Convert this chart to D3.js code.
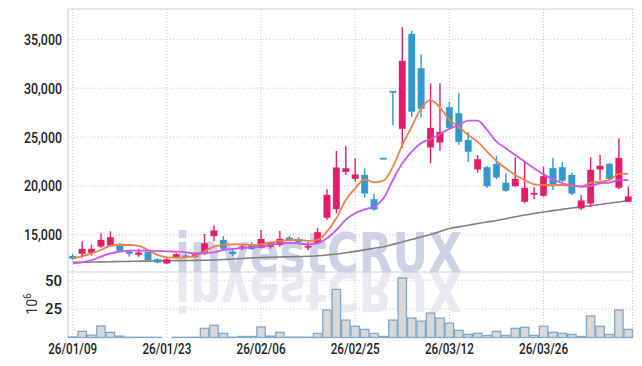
<!DOCTYPE html>
<html>
<head>
<meta charset="utf-8">
<script src="https://cdn.jsdelivr.net/npm/d3@7"></script>
<style>
  body { margin: 0; background: #fff; }
  svg { display: block; font-family: Roboto, "Liberation Sans", sans-serif; }
</style>
</head>
<body>
<div id="chart"></div>
<script>
// trading days
var dates = ["26/01/09","26/01/12","26/01/13","26/01/14","26/01/15","26/01/16","26/01/19","26/01/20","26/01/21","26/01/22",
  "26/01/23","26/01/26","26/01/27","26/01/28","26/01/29","26/01/30","26/02/02","26/02/03","26/02/04","26/02/05",
  "26/02/06","26/02/09","26/02/10","26/02/11","26/02/12","26/02/13","26/02/19","26/02/20","26/02/23","26/02/24",
  "26/02/25","26/02/26","26/02/27","26/03/03","26/03/04","26/03/05","26/03/06","26/03/09","26/03/10","26/03/11",
  "26/03/12","26/03/13","26/03/16","26/03/17","26/03/18","26/03/19","26/03/20","26/03/23","26/03/24","26/03/25",
  "26/03/26","26/03/27","26/03/30","26/03/31","26/04/01","26/04/02","26/04/03","26/04/06","26/04/07","26/04/08"];

var open  = [12840,13080,13160,13835,13935,14070,13280,12980,13250,12500,12100,12710,12870,12770,13050,14890,14480,13280,13630,14040,
  13690,13800,13970,14710,14580,13730,14200,16760,17650,21460,20750,21120,18640,22870,29700,25860,35540,32030,23960,24470,
  28050,27430,24700,21710,21910,22250,20310,20000,18400,19170,19010,21810,21910,21120,17720,18230,21710,22250,19830,18400];
var high  = [13050,14345,14000,15163,15370,14140,13455,13560,13320,12600,12640,13150,13050,13150,15090,15980,14890,13455,14040,14280,
  15500,14345,15400,14890,14750,14240,15700,19660,23580,24090,22830,21810,19180,22870,29720,36230,35850,33470,30500,30500,
  28590,29480,25490,23170,22050,23100,21300,22930,22480,19870,21970,22890,22480,21360,19080,22930,23170,22380,24880,19930];
var low   = [12470,12668,12880,13690,13865,13310,12770,12760,12400,12100,12050,12610,12640,12640,12980,14345,13520,12840,13420,13450,
  13630,13600,13800,14370,13990,13420,14140,16520,17210,21120,20440,18840,17470,22850,26210,23920,27090,27020,22320,23610,
  25730,24220,22420,21360,19790,20680,19420,19930,18230,18640,18900,19590,20340,19080,17540,17880,20610,20510,19660,18400];
var close = [12570,13560,13560,14478,14755,13380,13080,13180,12430,12200,12500,13020,12740,12980,14140,15430,13590,13045,13800,13560,
  14580,14240,14580,14480,14270,13860,15270,19080,21870,21810,21160,19250,17620,22850,29650,32780,27600,27900,25930,25520,
  25960,24530,23510,22730,20000,20890,19520,20720,19800,19280,20990,20000,20540,19250,18500,21640,22050,20720,22860,18910];

// volume, millions of shares
var volume = [0.5,5.4,2.1,10.1,4.5,1.2,0.2,0.2,0.2,0.2,0,0.2,0.2,0.2,8.0,10.7,3.6,0.3,0.9,0.9,
  9.2,1.2,4.5,0.3,0.3,0.3,3.6,24,42,15.2,9.8,7.1,3.6,0.9,15.2,52,17,14.3,21.4,17,
  12.5,6.3,2.7,3.6,1.8,5.4,1.8,8.0,8.9,1.8,9.8,4.5,3.6,2.7,0.9,18.8,9.8,2.7,24,7.1];

// moving average lines as drawn
var maShort = [12610,12840,13120,13460,13870,13970,13970,13870,13460,12950,12710,12670,12710,12840,13300,13800,13970,14040,14040,13970,
  14040,14200,14380,14480,14480,14380,14480,15330,16700,18570,19760,20690,20380,20540,21970,24190,26060,27940,28790,28050,
  26750,26060,25210,24530,23510,22560,21810,21120,20610,20170,20100,20100,20100,20000,19930,20340,20440,20610,21230,21230];
var maMid = [12100,12200,12430,12770,13120,13280,13390,13390,13390,13360,13320,13280,13220,13120,13150,13220,13460,13560,13660,13730,
  13800,13970,14140,14200,14140,14040,14140,14650,15500,16550,17210,17620,17880,18740,20610,22320,23510,24370,24780,25300,
  25850,26250,26680,26680,25730,24530,23850,23170,22480,21810,21190,20690,20280,20100,19930,20000,20280,20340,20610,20610];
var maLong = [12200,12210,12230,12240,12260,12280,12290,12310,12320,12340,12350,12370,12380,12400,12410,12430,12480,12530,12590,12640,
  12690,12710,12740,12760,12790,12810,12870,12950,13050,13180,13320,13470,13630,13790,14030,14270,14530,14790,15040,15350,
  15650,15820,15990,16160,16320,16470,16660,16850,17030,17190,17340,17480,17610,17750,17870,17990,18110,18240,18370,18500];

var priceTicks = [15000, 20000, 25000, 30000, 35000];
var volTicks = [25, 50];
var dateTicks = [0, 10, 20, 30, 40, 50];

var W = 642, H = 366;
var plot = { left: 68, right: 633, top: 9, mid: 272, bottom: 337.5 };

var svg = d3.select('#chart').append('svg')
  .attr('width', W)
  .attr('height', H);

var idx = d3.range(dates.length);
var x = d3.scaleBand().domain(idx).range([plot.left, plot.right]).padding(0);
var cx = function (i) { return x(i) + x.bandwidth() / 2; };

var y = d3.scaleLinear().domain([11207, 38098]).range([plot.mid, plot.top]);
var yv = d3.scaleLinear().domain([0, 57.2]).range([plot.bottom, plot.mid]);

// grid
var grid = svg.append('g')
  .attr('stroke', '#c4c4d6')
  .attr('stroke-dasharray', '1,2')
  .attr('stroke-width', 1);

grid.selectAll('line.hp').data(priceTicks).enter().append('line')
  .attr('x1', plot.left).attr('x2', plot.right)
  .attr('y1', d => y(d)).attr('y2', d => y(d));
grid.selectAll('line.hv').data(volTicks).enter().append('line')
  .attr('x1', plot.left).attr('x2', plot.right)
  .attr('y1', d => yv(d)).attr('y2', d => yv(d));
grid.selectAll('line.v').data(dateTicks).enter().append('line')
  .attr('x1', d => cx(d)).attr('x2', d => cx(d))
  .attr('y1', plot.top).attr('y2', plot.bottom);
grid.append('line').attr('x1', plot.right - 0.5).attr('x2', plot.right - 0.5).attr('y1', plot.top).attr('y2', plot.bottom);

// watermark and its reflection
var wm = svg.append('g');
wm.append('text')
  .attr('x', 175).attr('y', plot.mid)
  .attr('textLength', 287).attr('lengthAdjust', 'spacingAndGlyphs')
  .style('font-family', '"DejaVu Sans", sans-serif')
  .style('font-weight', 'bold')
  .style('font-size', '55px')
  .attr('fill', '#cdd2e6')
  .text('investCRUX');
var clip = svg.append('clipPath').attr('id', 'volclip');
clip.append('rect').attr('x', plot.left).attr('y', plot.mid).attr('width', plot.right - plot.left).attr('height', 48);
wm.append('g').attr('clip-path', 'url(#volclip)')
  .append('text')
  .attr('transform', `translate(0, ${2 * plot.mid}) scale(1,-1)`)
  .attr('x', 175).attr('y', plot.mid)
  .attr('textLength', 287).attr('lengthAdjust', 'spacingAndGlyphs')
  .style('font-family', '"DejaVu Sans", sans-serif')
  .style('font-weight', 'bold')
  .style('font-size', '55px')
  .attr('fill', '#e9e9f1')
  .text('investCRUX');

// frame
var frame = svg.append('g').attr('stroke', '#d0d0d0').attr('stroke-width', 1.2);
frame.append('line').attr('x1', plot.left).attr('x2', plot.right).attr('y1', plot.top).attr('y2', plot.top);
frame.append('line').attr('x1', plot.left).attr('x2', plot.left).attr('y1', plot.top).attr('y2', plot.bottom);
frame.append('line').attr('x1', plot.left).attr('x2', plot.right).attr('y1', plot.mid).attr('y2', plot.mid);

// volume bars
svg.append('g').selectAll('rect')
  .data(idx.filter(i => volume[i] > 0))
  .enter().append('rect')
  .attr('x', i => x(i) + 0.5)
  .attr('width', x.bandwidth() - 1)
  .attr('y', i => yv(volume[i]))
  .attr('height', i => plot.bottom - yv(volume[i]))
  .attr('fill', '#d8d8d8')
  .attr('stroke', '#7fa9cb')
  .attr('stroke-width', 1.3);

// moving averages
var line = function (arr) {
  return d3.line().x((d, i) => cx(i)).y(d => y(d)).curve(d3.curveMonotoneX)(arr);
};
svg.append('path').attr('d', line(maLong)).attr('fill', 'none').attr('stroke', '#808080').attr('stroke-width', 1.6);

// candles
var up = '#e31d6b', down = '#3399cc';
var candles = svg.append('g').selectAll('g')
  .data(idx).enter().append('g')
  .attr('fill', i => close[i] >= open[i] ? up : down)
  .attr('stroke', i => close[i] >= open[i] ? up : down);

candles.append('line')
  .attr('x1', i => cx(i)).attr('x2', i => cx(i))
  .attr('y1', i => y(high[i])).attr('y2', i => y(low[i]))
  .attr('stroke-width', 1.4);
candles.append('rect')
  .attr('x', i => cx(i) - 3.3)
  .attr('width', 6.6)
  .attr('y', i => y(Math.max(open[i], close[i])))
  .attr('height', i => Math.max(1.4, Math.abs(y(open[i]) - y(close[i]))))
  .attr('stroke-width', 0.6)
  .attr('stroke-opacity', 0.5);

svg.append('path').attr('d', line(maShort)).attr('fill', 'none').attr('stroke', '#ef8048').attr('stroke-width', 1.8);
svg.append('path').attr('d', line(maMid)).attr('fill', 'none').attr('stroke', '#c957ea').attr('stroke-width', 1.8);

// axis labels
var labelStyle = function (sel) {
  sel.style('font-family', 'Roboto, sans-serif')
    .style('font-size', '15px')
    .style('font-weight', '500')
    .attr('fill', '#222');
};

svg.append('g').selectAll('text')
  .data(priceTicks).enter().append('text')
  .attr('x', 62).attr('y', d => y(d))
  .attr('dy', '0.36em')
  .attr('text-anchor', 'end')
  .attr('textLength', 38).attr('lengthAdjust', 'spacingAndGlyphs')
  .text(d => d3.format(',')(d))
  .call(labelStyle);

svg.append('g').selectAll('text')
  .data(volTicks).enter().append('text')
  .attr('x', 62).attr('y', d => yv(d))
  .attr('dy', '0.36em')
  .attr('text-anchor', 'end')
  .text(d => d)
  .call(labelStyle);

var unit = svg.append('text')
  .attr('transform', 'translate(37, 304) rotate(-90)')
  .attr('text-anchor', 'middle')
  .style('font-family', 'Roboto, sans-serif')
  .style('font-size', '14px')
  .attr('fill', '#333');
unit.append('tspan').text('10');
unit.append('tspan').attr('dy', -6).style('font-size', '10px').text('6');

svg.append('g').selectAll('text')
  .data(dateTicks).enter().append('text')
  .attr('x', d => cx(d)).attr('y', 349)
  .attr('dy', '0.36em')
  .attr('text-anchor', 'middle')
  .attr('textLength', 49).attr('lengthAdjust', 'spacingAndGlyphs')
  .text(d => dates[d])
  .call(labelStyle);
</script>
</body>
</html>
